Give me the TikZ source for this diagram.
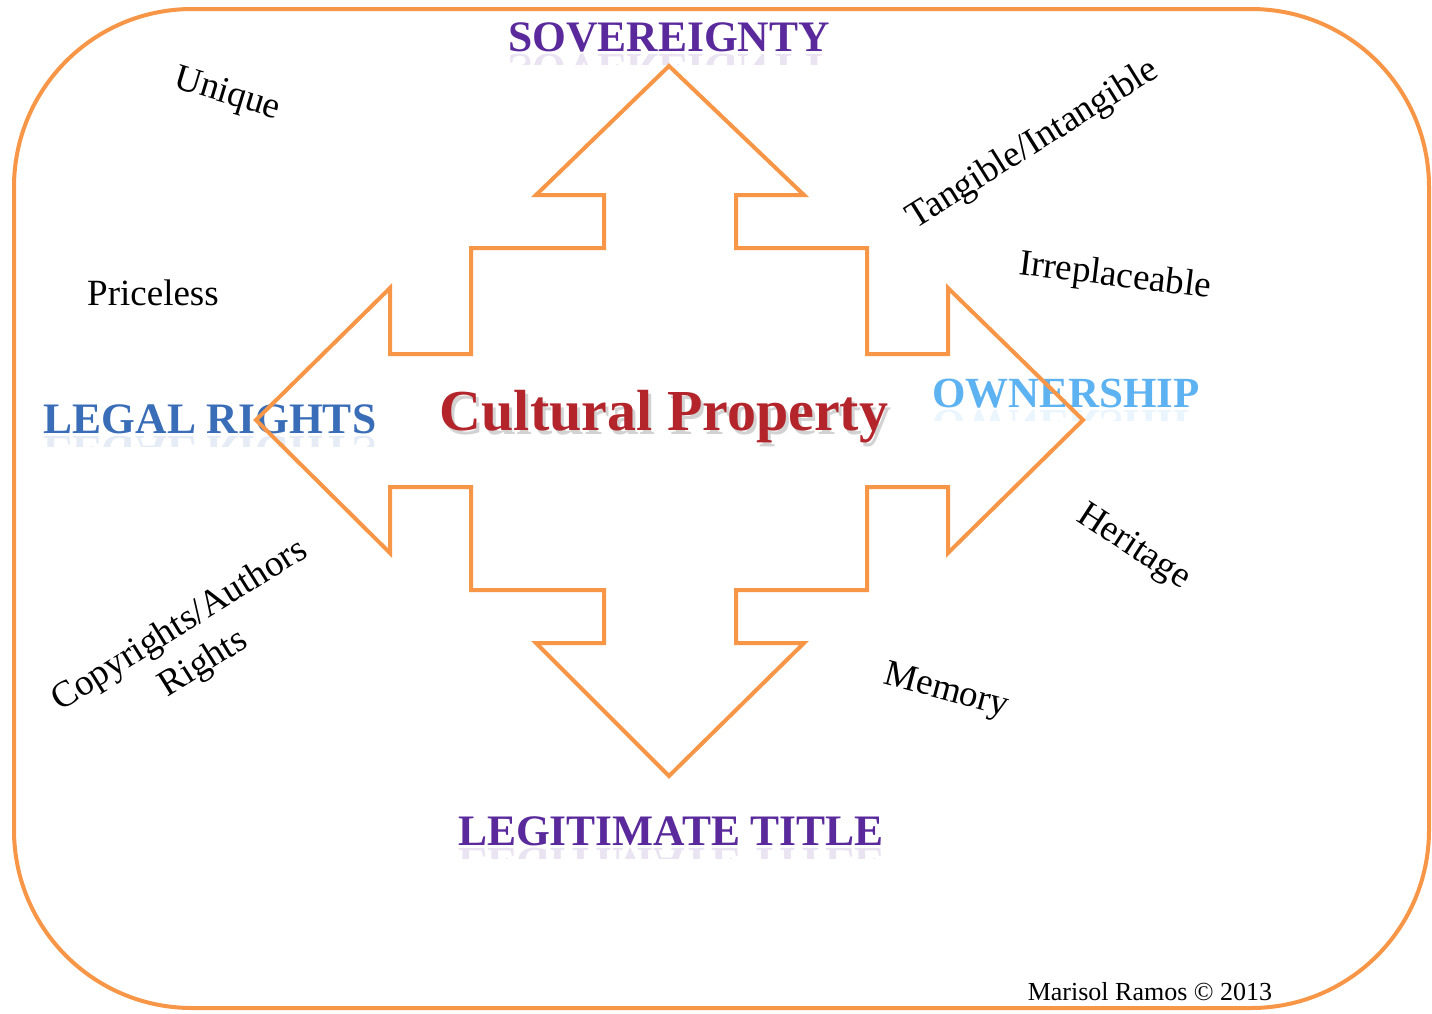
\documentclass[tikz,border=0pt]{standalone}
\usepackage{fontspec}
\setmainfont{Liberation Serif}
\definecolor{arroworange}{HTML}{F79646}
\definecolor{headpurple}{HTML}{5A2A9C}
\definecolor{legalblue}{HTML}{3A6DB8}
\definecolor{ownblue}{HTML}{5DB2F2}
\definecolor{cpred}{HTML}{B3242B}
\newcommand{\mirrorhead}[6]{%
  \begin{scope}
    \clip (#2-320,#3+2) rectangle (#2+320,#3+13);
    \node[head=#4, text=#5, yscale=-1, opacity=0.13] (#1m) at (#2,#3+3) {#6};
  \end{scope}
  \node[head=#4, text=#5] (#1) at (#2,#3) {#6};
}
\begin{document}
\begin{tikzpicture}[x=1pt,y=-1pt,
  frame/.style={draw=arroworange, line width=4pt},
  arrowline/.style={draw=arroworange, line width=4pt, line join=miter},
  word/.style={font=\fontsize{37}{45}\selectfont, inner sep=0pt, text=black},
  head/.style={font=\fontsize{#1}{#1}\selectfont\bfseries, inner sep=0pt, anchor=base}]
\useasboundingbox (0,0) rectangle (1432,1013);
\fill[white] (0,0) rectangle (1432,1013);
% outer frame
\draw[frame, rounded corners=178] (14,9) rectangle (1429,1008);
% headings
\mirrorhead{sov}{669}{51}{43.5}{headpurple}{SOVEREIGNTY}
\mirrorhead{legal}{210}{433}{43.5}{legalblue}{LEGAL RIGHTS}
\mirrorhead{own}{1066}{407}{43}{ownblue}{OWNERSHIP}
\mirrorhead{legit}{671}{845}{43.5}{headpurple}{LEGITIMATE TITLE}
% central title with shadow
\node[head=58, text=black!35, opacity=0.5] (cpshadow) at (667,434) {Cultural Property};
\node[head=58, text=cpred] (cp) at (664,430) {Cultural Property};
% arrow outline
\draw[arrowline] (669,66) -- (804,195) -- (736,195) -- (736,248) -- (867,248)
  -- (867,354) -- (948,354) -- (948,288) -- (1083,420) -- (948,553) -- (948,487)
  -- (867,487) -- (867,590) -- (736,590) -- (736,643) -- (804,643) -- (669,776)
  -- (536,643) -- (604,643) -- (604,590) -- (471,590) -- (471,487) -- (390,487)
  -- (390,553) -- (256,420) -- (390,288) -- (390,354) -- (471,354) -- (471,248)
  -- (604,248) -- (604,195) -- (536,195) -- cycle;
% descriptive words
\node[word, rotate=-17] (unique) at (227,95) {Unique};
\node[word, anchor=base] (priceless) at (153,305) {Priceless};
\node[word, rotate=32] (tangible) at (1033,145) {Tangible/Intangible};
\node[word, rotate=-7] (irrepl) at (1115,277) {Irreplaceable};
\node[word, rotate=-33] (heritage) at (1133,548) {Heritage};
\node[word, rotate=-15] (memory) at (946,692) {Memory};
\node[word, rotate=32, align=center] (copyr) at (192,645) {Copyrights/Authors\\Rights};
% credit
\node[inner sep=0pt, anchor=base, font=\fontsize{26}{30}\selectfont] (credit) at (1150,1000) {Marisol Ramos \textcopyright{} 2013};
\end{tikzpicture}
\end{document}
